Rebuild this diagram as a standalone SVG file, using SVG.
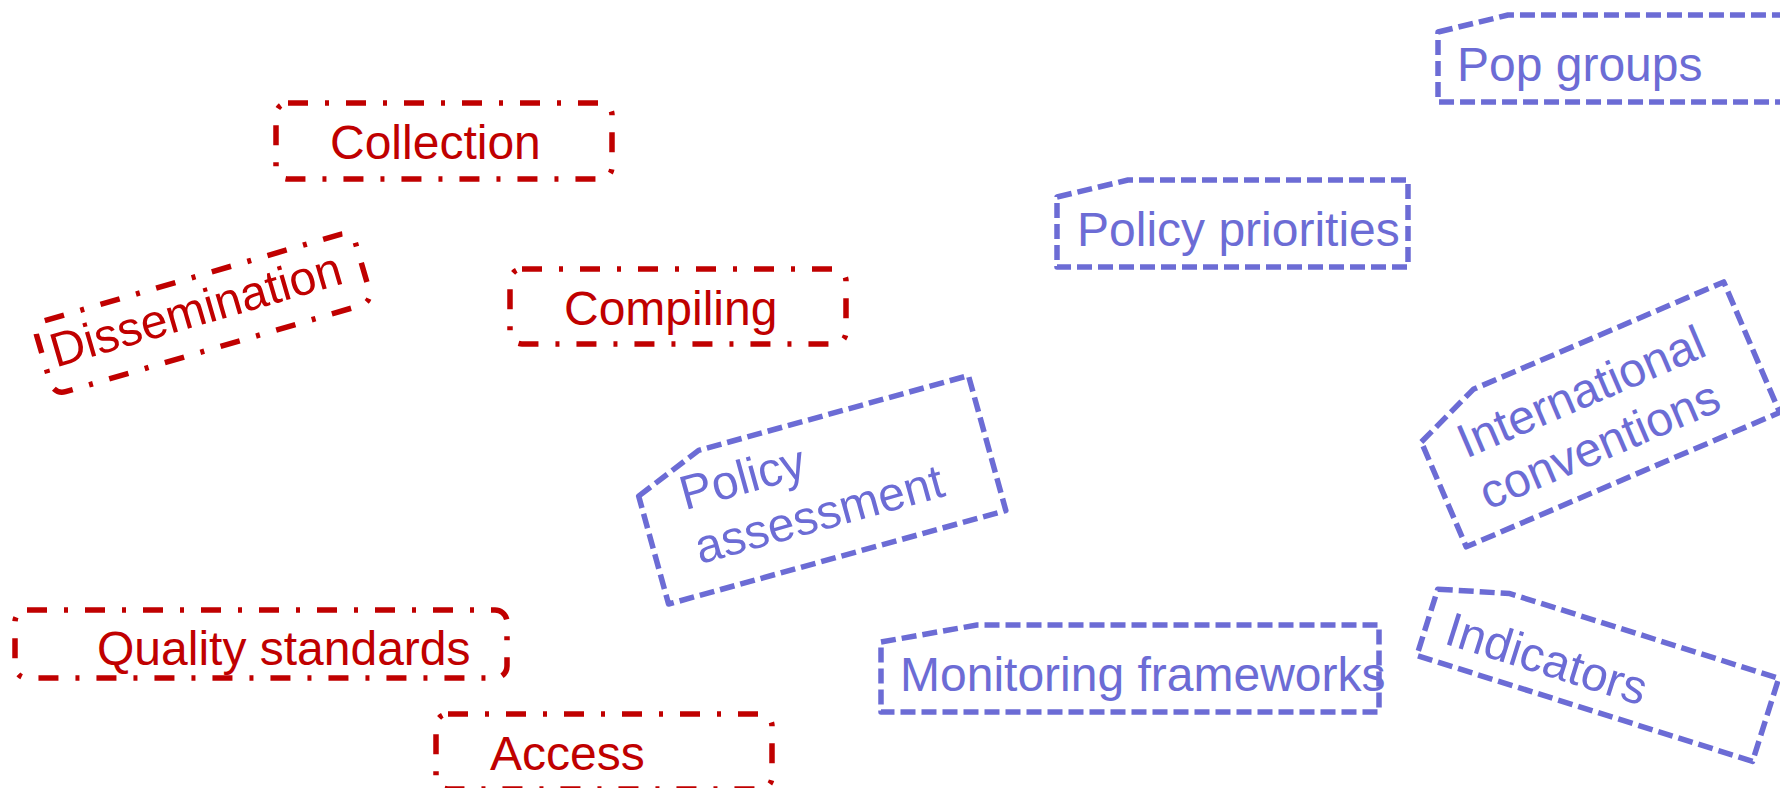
<svg xmlns="http://www.w3.org/2000/svg" width="1780" height="788" viewBox="0 0 1780 788">
<style>
.red rect{fill:none;stroke:#c00000;stroke-width:5.5;stroke-dasharray:20 17 4 17}
.red text{fill:#c00000;font-family:"Liberation Sans",Arial,sans-serif;font-size:48px}
.blue path{fill:none;stroke:#6c6cd5;stroke-width:5.5;stroke-dasharray:15 6;stroke-linejoin:round}
.blue text{fill:#6c6cd5;font-family:"Liberation Sans",Arial,sans-serif;font-size:48px}
</style>
<rect width="1780" height="788" fill="#ffffff"/>
<g id="connectors"></g>
<g id="collection" class="red">
<rect x="276" y="103" width="336" height="76" rx="12"/>
<text x="330" y="159">Collection</text>
</g>
<g id="dissemination" class="red" transform="translate(203,313) rotate(-16.3)">
<rect x="-166" y="-37" width="332" height="74" rx="12"/>
<text x="-6" y="11" text-anchor="middle">Dissemination</text>
</g>
<g id="compiling" class="red">
<rect x="510" y="269" width="336" height="75" rx="12"/>
<text x="564" y="325">Compiling</text>
</g>
<g id="quality-standards" class="red">
<rect x="15" y="610" width="492" height="68" rx="12"/>
<text x="97" y="665">Quality standards</text>
</g>
<g id="access" class="red">
<rect x="436" y="714" width="336" height="75" rx="12"/>
<text x="490" y="770">Access</text>
</g>
<g id="pop-groups" class="blue">
<path d="M1438,32 L1508,15 L1790,15 L1790,102 L1438,102 Z"/>
<text x="1457" y="81">Pop groups</text>
</g>
<g id="policy-priorities" class="blue">
<path d="M1057,197 L1128,180 L1408,180 L1408,267 L1057,267 Z"/>
<text x="1077" y="246">Policy priorities</text>
</g>
<g id="monitoring-frameworks" class="blue">
<path d="M881,642 L977,625 L1379,625 L1379,712 L881,712 Z"/>
<text x="900" y="691">Monitoring frameworks</text>
</g>
<g id="policy-assessment" class="blue" transform="translate(818.5,489.8) rotate(-15.5)">
<path d="M-175,-42 L-105,-70 L175,-70 L175,70 L-175,70 Z"/>
<text x="-134" y="-16">Policy</text>
<text x="-134" y="40">assessment</text>
</g>
<g id="international-conventions" class="blue" transform="translate(1595,414.4) rotate(-23.2)">
<path d="M-170.5,-43 L-102,-71 L170.5,-71 L170.5,71 L-170.5,71 Z"/>
<text x="-136" y="-10">International</text>
<text x="-136" y="46">conventions</text>
</g>
<g id="indicators" class="blue" transform="translate(1597.8,666.9) rotate(17.5)">
<path d="M-176,-26 L-106,-43.5 L176,-43.5 L176,43.5 L-176,43.5 Z"/>
<text x="-155" y="24">Indicators</text>
</g>
</svg>
